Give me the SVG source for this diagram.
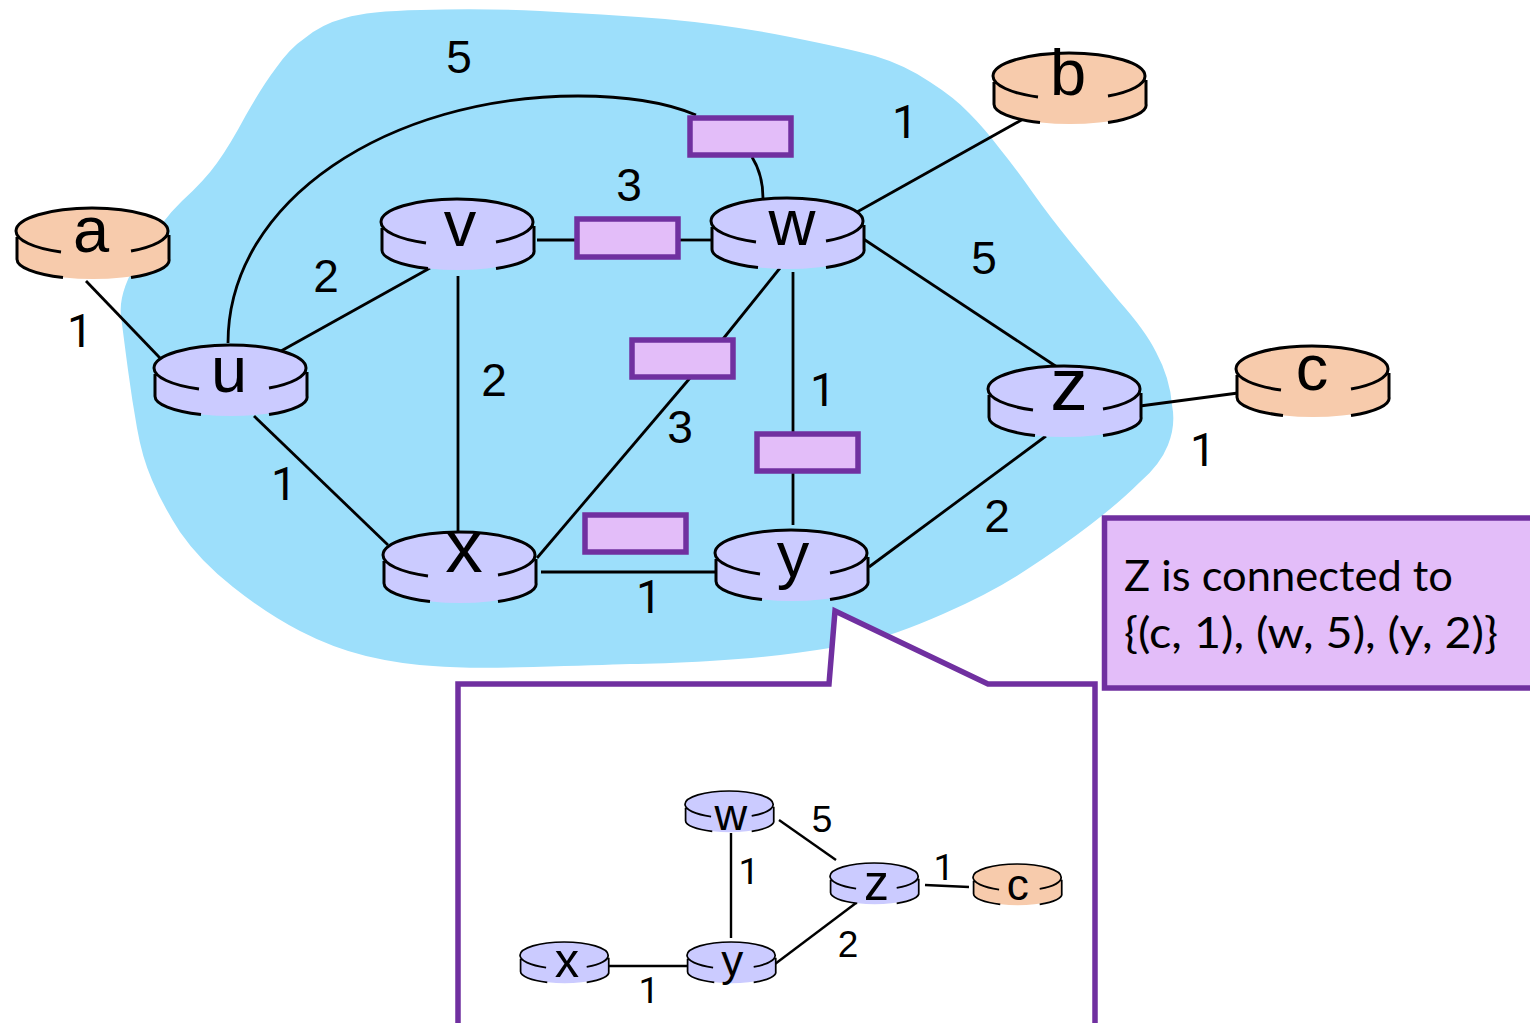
<svg xmlns="http://www.w3.org/2000/svg" width="1530" height="1023" viewBox="0 0 1530 1023">
<style>
text{font-family:"Liberation Sans",Arial,sans-serif;fill:#000;text-anchor:middle}
.c{fill:none;stroke:#000;stroke-width:2.8}
.cs{fill:none;stroke:#000;stroke-width:2.4}
.n{font-size:46px}
.ns{font-size:37px}
.one{font-family:Roboto,"Liberation Sans",sans-serif}
.l{font-size:65px}
.box{fill:#e3bdf9;stroke:#7030a0;stroke-width:5.5}
.blue{fill:#cbcbff}
.org{fill:#f7cbac}
.rl{fill:none;stroke:#000;stroke-width:3}
.small .rl{stroke-width:4}
.note{font-family:Lato,"Open Sans",sans-serif;font-size:43px;text-anchor:start}
</style>
<defs>
<path id="rb" d="M0,23 A76,23 0 0 1 152,23 L153,51 A76,20 0 0 1 1,51 Z"/>
<path id="rs" class="rl" d="M45,44 A76,23 0 0 1 0,23 A76,23 0 0 1 152,23 A76,23 0 0 1 115,43 M1,29 V51 A76,20 0 0 0 47,69.5 M115,69.5 A76,20 0 0 0 153,51 V27"/>
</defs>
<path id="cloud" fill="#9ddffb" d="M121,316 Q118,292 140,257 Q160,222 182,201 Q205,180 217,163 Q230,145 246,115 Q263,85 276,68 Q290,48 305,38 Q322,24 345,18 Q368,11 421,10 Q480,8 540,11 Q600,14 665,19 Q730,25 790,37 Q850,49 875,56 Q905,65 930,82 Q955,98 969,113 Q985,129 1000,149 Q1017,170 1033,193 Q1050,217 1072,244 Q1095,272 1119,301 Q1145,330 1156,352 Q1170,378 1172,405 Q1176,425 1168,445 Q1160,465 1140,482 Q1120,502 1090,525 Q1060,548 1026,570 Q993,592 943,614 Q893,636 863,642 Q833,648 796,653 Q760,658 710,661 Q660,664 630,664 Q600,665 533,667 Q467,669 433,666 Q400,664 366,656 Q333,648 300,631 Q267,614 233,587 Q200,561 180,532 Q162,504 152,480 Q142,457 137,428 Q132,400 128,370 Q124,340 121,316 Z"/>
<path id="callout" fill="#fff" stroke="#7030a0" stroke-width="5.500" d="M458,1030 V684 H829 L835,611 L988,684 H1095 V1030"/>
<g id="connectors">
<path class="c" d="M86,281 L160,358"/>
<path class="c" d="M281,351 L430,268"/>
<path class="c" d="M537,240 H577"/>
<path class="c" d="M679,240 H711"/>
<path class="c" d="M458,276 V535"/>
<path class="c" d="M254,416 L388,545"/>
<path class="c" d="M228,343 C228,200 390,96 578,96 C630,96 670,104 696,115"/>
<path class="c" d="M752,157 C760,170 763,184 763,198"/>
<path class="c" d="M780,268 L723,339"/>
<path class="c" d="M690,378 L537,558"/>
<path class="c" d="M793,272 V433"/>
<path class="c" d="M793,472 V525"/>
<path class="c" d="M541,572 H716"/>
<path class="c" d="M857,212 L1025,118"/>
<path class="c" d="M862,238 L1057,367"/>
<path class="c" d="M1140,406 L1238,393"/>
<path class="c" d="M1046,436 L869,567"/>
<path class="cs" d="M731,833 V938"/>
<path class="cs" d="M779,820 L836,860"/>
<path class="cs" d="M925,885 L969,887"/>
<path class="cs" d="M856,903 L775,964"/>
<path class="cs" d="M587,966 H687"/>
</g>
<g id="queues">
<rect class="box" x="690" y="118" width="101" height="37"/>
<rect class="box" x="577" y="219" width="101" height="38"/>
<rect class="box" x="632" y="340" width="101" height="37"/>
<rect class="box" x="757" y="434" width="101" height="37"/>
<rect class="box" x="585" y="515" width="101" height="37"/>
</g>
<g id="node-a" transform="translate(16,208)"><use href="#rb" class="org"/><use href="#rs"/><text class="l" x="75" y="44">a</text></g>
<g id="node-b" transform="translate(993,53)"><use href="#rb" class="org"/><use href="#rs"/><text class="l" x="75" y="42">b</text></g>
<g id="node-c" transform="translate(1236,346)"><use href="#rb" class="org"/><use href="#rs"/><text class="l" x="76" y="44">c</text></g>
<g id="node-u" transform="translate(154,345)"><use href="#rb" class="blue"/><use href="#rs"/><text class="l" x="75" y="47">u</text></g>
<g id="node-v" transform="translate(381,199)"><use href="#rb" class="blue"/><use href="#rs"/><text class="l" x="79" y="47">v</text></g>
<g id="node-w" transform="translate(711,198)"><use href="#rb" class="blue"/><use href="#rs"/><text class="l" x="81" y="47">w</text></g>
<g id="node-x" transform="translate(383,532)"><use href="#rb" class="blue"/><use href="#rs"/><text class="l" x="81" y="40" style="font-size:75px">x</text></g>
<g id="node-y" transform="translate(715,530)"><use href="#rb" class="blue"/><use href="#rs"/><text class="l" x="78" y="47">y</text></g>
<g id="node-z" transform="translate(988,366)"><use href="#rb" class="blue"/><use href="#rs"/><text class="l" x="81" y="44" style="font-size:75px">z</text></g>
<g id="node-w2" class="small" transform="translate(685,791) scale(.58)"><use href="#rb" class="blue"/><use href="#rs"/><text x="79" y="67" style="font-size:78px">w</text></g>
<g id="node-z2" class="small" transform="translate(830,863) scale(.58)"><use href="#rb" class="blue"/><use href="#rs"/><text x="80" y="63" style="font-size:86px">z</text></g>
<g id="node-c2" class="small" transform="translate(973,864) scale(.58)"><use href="#rb" class="org"/><use href="#rs"/><text x="77" y="62" style="font-size:76px">c</text></g>
<g id="node-x2" class="small" transform="translate(520,942) scale(.58)"><use href="#rb" class="blue"/><use href="#rs"/><text x="81" y="60" style="font-size:84px">x</text></g>
<g id="node-y2" class="small" transform="translate(687,942) scale(.58)"><use href="#rb" class="blue"/><use href="#rs"/><text x="78" y="58" style="font-size:76px">y</text></g>
<g id="labels">
<text class="n" x="459" y="73">5</text>
<text class="n one" x="905" y="138">1</text>
<text class="n" x="629" y="201">3</text>
<text class="n" x="984" y="274">5</text>
<text class="n" x="326" y="292">2</text>
<text class="n one" x="80" y="347">1</text>
<text class="n" x="494" y="396">2</text>
<text class="n one" x="823" y="406">1</text>
<text class="n" x="680" y="443">3</text>
<text class="n one" x="1203" y="466">1</text>
<text class="n one" x="284" y="500">1</text>
<text class="n" x="997" y="532">2</text>
<text class="n one" x="649" y="613">1</text>
<text class="ns" x="822" y="832">5</text>
<text class="ns one" x="749" y="884">1</text>
<text class="ns one" x="944" y="880">1</text>
<text class="ns" x="848" y="957">2</text>
<text class="ns one" x="649" y="1003">1</text>
</g>
<g id="note">
<rect class="box" x="1104.500" y="518" width="436" height="170"/>
<text class="note" x="1124" y="591" textLength="329" lengthAdjust="spacingAndGlyphs">Z is connected to</text>
<text class="note" x="1124" y="648" textLength="374" lengthAdjust="spacingAndGlyphs">{(c, 1), (w, 5), (y, 2)}</text>
</g>
</svg>
